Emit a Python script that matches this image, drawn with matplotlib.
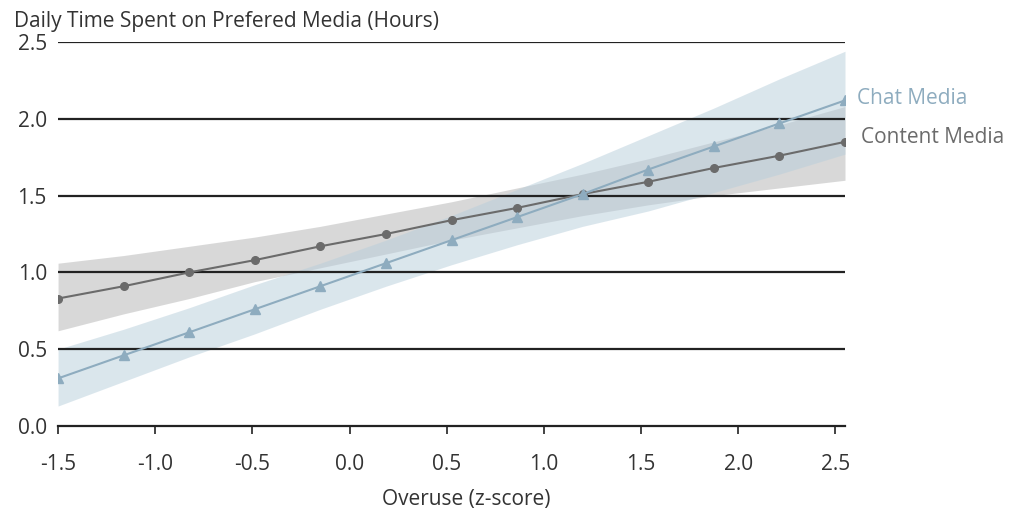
import matplotlib.pyplot as plt
import numpy as np

plt.rcParams['font.family'] = ['Open Sans', 'DejaVu Sans']

# overuse z-score positions of the estimated points
overuse = [-1.5, -1.1625, -0.825, -0.4875, -0.15, 0.1875, 0.525,
           0.8625, 1.2, 1.5375, 1.875, 2.2125, 2.55]

# content media: estimate and confidence band
content_mean = [0.83, 0.91, 1.00, 1.08, 1.17, 1.25, 1.34, 1.42, 1.51, 1.59, 1.68, 1.76, 1.85]
content_low = [0.62, 0.73, 0.83, 0.94, 1.03, 1.12, 1.21, 1.29, 1.37, 1.44, 1.50, 1.55, 1.60]
content_high = [1.06, 1.11, 1.17, 1.23, 1.30, 1.38, 1.46, 1.55, 1.64, 1.74, 1.85, 1.96, 2.08]

# chat media: estimate and confidence band
chat_mean = [0.31, 0.46, 0.61, 0.76, 0.91, 1.06, 1.21, 1.36, 1.51, 1.67, 1.82, 1.97, 2.12]
chat_low = [0.13, 0.29, 0.45, 0.60, 0.76, 0.91, 1.05, 1.18, 1.30, 1.40, 1.52, 1.64, 1.77]
chat_high = [0.50, 0.63, 0.77, 0.92, 1.06, 1.21, 1.37, 1.54, 1.71, 1.89, 2.07, 2.26, 2.44]

xticks = [-1.5, -1.0, -0.5, 0.0, 0.5, 1.0, 1.5, 2.0, 2.5]
yticks = [0.0, 0.5, 1.0, 1.5, 2.0, 2.5]

blue = '#8eacbf'
grey = '#6b6b6b'
text_col = '#333333'
fs = 15

fig = plt.figure(figsize=(10.29, 5.15), dpi=100)
ax = fig.add_axes([0.0564, 0.1728, 0.7648, 0.7456])

ax.fill_between(overuse, content_low, content_high, color='#d2d2d2', alpha=0.85, lw=0, zorder=1)
ax.fill_between(overuse, chat_low, chat_high, color='#b7cedb', alpha=0.5, lw=0, zorder=2)

# horizontal grid lines, above the bands but under the series
for y in yticks[1:]:
    ax.axhline(y, color='#222222', lw=1.6, zorder=3)

ax.plot(overuse, content_mean, color=grey, lw=1.5, marker='o', ms=5.5, zorder=4)
ax.plot(overuse, chat_mean, color=blue, lw=1.5, marker='^', ms=7, zorder=5)

ax.text(2.61, chat_mean[-1] + 0.01, 'Chat Media', color=blue, fontsize=fs, va='center', ha='left')
ax.text(2.63, content_mean[-1] + 0.03, 'Content Media', color=grey, fontsize=fs, va='center', ha='left')

ax.set_xlim(-1.5, 2.55)
ax.set_ylim(0, 2.5)
ax.set_xticks(xticks)
ax.set_xticklabels(['%.1f' % v for v in xticks])
ax.set_yticks(yticks)
ax.set_yticklabels(['%.1f' % v for v in yticks])

for s in ['top', 'right', 'left']:
    ax.spines[s].set_visible(False)
ax.spines['bottom'].set_color('#222222')
ax.spines['bottom'].set_linewidth(1.6)
ax.tick_params(axis='x', length=6, width=1.2, color='#222222', pad=14,
               labelsize=fs, labelcolor=text_col)
ax.tick_params(axis='y', length=0, pad=8, labelsize=fs, labelcolor=text_col)

ax.set_xlabel('Overuse (z-score)', fontsize=fs, color=text_col)
ax.xaxis.set_label_coords((466 - 58) / 787, -0.165)

fig.text(14 / 1029, 1 - 22 / 515, 'Daily Time Spent on Prefered Media (Hours)',
         fontsize=fs, color=text_col, va='center', ha='left')

fig.savefig('out.png', dpi=100)
